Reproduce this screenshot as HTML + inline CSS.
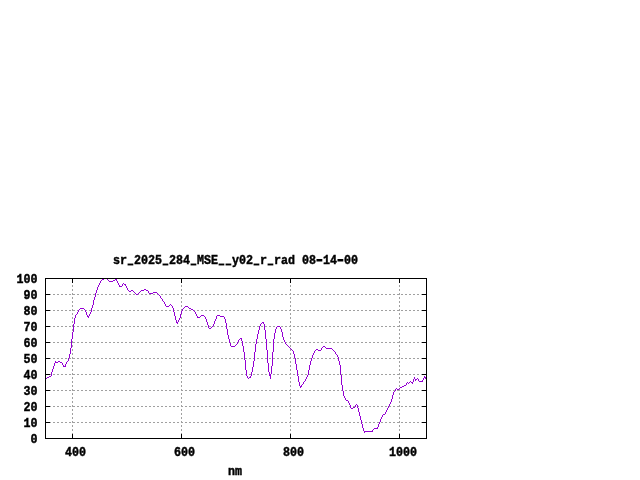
<!DOCTYPE html>
<html><head><meta charset="utf-8"><title>plot</title>
<style>html,body{margin:0;padding:0;background:#fff;overflow:hidden}svg{display:block}text{font-family:"Liberation Mono","DejaVu Sans Mono",monospace;font-weight:bold;fill:#000}</style></head>
<body>
<svg width="640" height="480" viewBox="0 0 640 480">
<rect width="640" height="480" fill="#fff"/>
<g stroke="#a0a0a0" stroke-width="1" stroke-dasharray="2 2" shape-rendering="crispEdges"><line x1="45" y1="422.5" x2="426" y2="422.5"/><line x1="45" y1="406.5" x2="426" y2="406.5"/><line x1="45" y1="390.5" x2="426" y2="390.5"/><line x1="45" y1="374.5" x2="426" y2="374.5"/><line x1="45" y1="358.5" x2="426" y2="358.5"/><line x1="45" y1="342.5" x2="426" y2="342.5"/><line x1="45" y1="326.5" x2="426" y2="326.5"/><line x1="45" y1="310.5" x2="426" y2="310.5"/><line x1="45" y1="294.5" x2="426" y2="294.5"/><line x1="72.5" y1="439" x2="72.5" y2="278"/><line x1="181.5" y1="439" x2="181.5" y2="278"/><line x1="290.5" y1="439" x2="290.5" y2="278"/><line x1="399.5" y1="439" x2="399.5" y2="278"/></g>
<g stroke="#000" stroke-width="1" shape-rendering="crispEdges"><line x1="45" y1="438.5" x2="50" y2="438.5"/><line x1="427" y1="438.5" x2="422" y2="438.5"/><line x1="45" y1="422.5" x2="50" y2="422.5"/><line x1="427" y1="422.5" x2="422" y2="422.5"/><line x1="45" y1="406.5" x2="50" y2="406.5"/><line x1="427" y1="406.5" x2="422" y2="406.5"/><line x1="45" y1="390.5" x2="50" y2="390.5"/><line x1="427" y1="390.5" x2="422" y2="390.5"/><line x1="45" y1="374.5" x2="50" y2="374.5"/><line x1="427" y1="374.5" x2="422" y2="374.5"/><line x1="45" y1="358.5" x2="50" y2="358.5"/><line x1="427" y1="358.5" x2="422" y2="358.5"/><line x1="45" y1="342.5" x2="50" y2="342.5"/><line x1="427" y1="342.5" x2="422" y2="342.5"/><line x1="45" y1="326.5" x2="50" y2="326.5"/><line x1="427" y1="326.5" x2="422" y2="326.5"/><line x1="45" y1="310.5" x2="50" y2="310.5"/><line x1="427" y1="310.5" x2="422" y2="310.5"/><line x1="45" y1="294.5" x2="50" y2="294.5"/><line x1="427" y1="294.5" x2="422" y2="294.5"/><line x1="45" y1="278.5" x2="50" y2="278.5"/><line x1="427" y1="278.5" x2="422" y2="278.5"/><line x1="72.5" y1="439" x2="72.5" y2="434"/><line x1="72.5" y1="278" x2="72.5" y2="283"/><line x1="181.5" y1="439" x2="181.5" y2="434"/><line x1="181.5" y1="278" x2="181.5" y2="283"/><line x1="290.5" y1="439" x2="290.5" y2="434"/><line x1="290.5" y1="278" x2="290.5" y2="283"/><line x1="399.5" y1="439" x2="399.5" y2="434"/><line x1="399.5" y1="278" x2="399.5" y2="283"/></g>
<path fill="#9400d3" shape-rendering="crispEdges" d="M45 378h1v1h-1zM46 378h1v1h-1zM47 377h1v1h-1zM48 377h1v1h-1zM49 376h1v1h-1zM50 376h1v1h-1zM51 372h1v4h-1zM52 369h1v3h-1zM53 366h1v3h-1zM54 363h1v3h-1zM55 361h1v2h-1zM56 362h1v1h-1zM57 362h1v1h-1zM58 361h1v1h-1zM59 361h1v1h-1zM60 362h1v1h-1zM61 362h1v1h-1zM62 363h1v2h-1zM63 365h1v2h-1zM64 366h1v1h-1zM65 364h1v3h-1zM66 362h1v2h-1zM67 361h1v1h-1zM68 358h1v3h-1zM69 354h1v4h-1zM70 348h1v6h-1zM71 339h1v9h-1zM72 332h1v7h-1zM73 324h1v8h-1zM74 318h1v6h-1zM75 315h1v3h-1zM76 314h1v1h-1zM77 312h1v2h-1zM78 310h1v2h-1zM79 309h1v1h-1zM80 308h1v1h-1zM81 308h1v1h-1zM82 308h1v1h-1zM83 308h1v1h-1zM84 309h1v1h-1zM85 310h1v2h-1zM86 312h1v3h-1zM87 315h1v2h-1zM88 316h1v2h-1zM89 314h1v2h-1zM90 312h1v2h-1zM91 308h1v4h-1zM92 305h1v3h-1zM93 300h1v5h-1zM94 297h1v3h-1zM95 293h1v4h-1zM96 290h1v3h-1zM97 287h1v3h-1zM98 285h1v2h-1zM99 283h1v2h-1zM100 281h1v2h-1zM101 280h1v1h-1zM102 279h1v1h-1zM103 279h1v1h-1zM104 278h1v1h-1zM105 278h1v1h-1zM106 278h1v1h-1zM107 279h1v1h-1zM108 280h1v1h-1zM109 281h1v1h-1zM110 281h1v1h-1zM111 281h1v1h-1zM112 281h1v1h-1zM113 280h1v1h-1zM114 280h1v1h-1zM115 279h1v1h-1zM116 279h1v2h-1zM117 281h1v2h-1zM118 283h1v2h-1zM119 285h1v2h-1zM120 286h1v1h-1zM121 286h1v1h-1zM122 284h1v2h-1zM123 283h1v1h-1zM124 284h1v1h-1zM125 284h1v2h-1zM126 286h1v2h-1zM127 288h1v2h-1zM128 290h1v1h-1zM129 291h1v1h-1zM130 291h1v1h-1zM131 290h1v1h-1zM132 290h1v1h-1zM133 291h1v1h-1zM134 292h1v1h-1zM135 293h1v1h-1zM136 294h1v1h-1zM137 294h1v1h-1zM138 293h1v1h-1zM139 292h1v1h-1zM140 291h1v1h-1zM141 290h1v1h-1zM142 290h1v1h-1zM143 290h1v1h-1zM144 289h1v1h-1zM145 289h1v1h-1zM146 290h1v1h-1zM147 290h1v1h-1zM148 291h1v2h-1zM149 293h1v1h-1zM150 293h1v1h-1zM151 293h1v1h-1zM152 293h1v1h-1zM153 292h1v1h-1zM154 292h1v1h-1zM155 292h1v1h-1zM156 292h1v1h-1zM157 293h1v1h-1zM158 294h1v1h-1zM159 295h1v1h-1zM160 296h1v2h-1zM161 298h1v1h-1zM162 299h1v2h-1zM163 301h1v1h-1zM164 302h1v2h-1zM165 304h1v2h-1zM166 306h1v1h-1zM167 306h1v1h-1zM168 306h1v1h-1zM169 305h1v1h-1zM170 304h1v1h-1zM171 305h1v1h-1zM172 306h1v2h-1zM173 308h1v4h-1zM174 312h1v4h-1zM175 316h1v4h-1zM176 320h1v3h-1zM177 322h1v2h-1zM178 320h1v2h-1zM179 318h1v2h-1zM180 314h1v4h-1zM181 311h1v3h-1zM182 309h1v2h-1zM183 308h1v1h-1zM184 307h1v1h-1zM185 306h1v1h-1zM186 306h1v1h-1zM187 306h1v1h-1zM188 307h1v1h-1zM189 308h1v1h-1zM190 308h1v1h-1zM191 309h1v1h-1zM192 309h1v1h-1zM193 310h1v1h-1zM194 311h1v1h-1zM195 312h1v2h-1zM196 314h1v2h-1zM197 316h1v2h-1zM198 317h1v1h-1zM199 317h1v1h-1zM200 316h1v1h-1zM201 315h1v1h-1zM202 315h1v1h-1zM203 315h1v1h-1zM204 316h1v1h-1zM205 317h1v2h-1zM206 319h1v3h-1zM207 322h1v3h-1zM208 325h1v3h-1zM209 328h1v1h-1zM210 328h1v1h-1zM211 327h1v1h-1zM212 326h1v1h-1zM213 324h1v2h-1zM214 321h1v3h-1zM215 319h1v2h-1zM216 316h1v3h-1zM217 315h1v1h-1zM218 315h1v1h-1zM219 315h1v1h-1zM220 316h1v1h-1zM221 316h1v1h-1zM222 316h1v1h-1zM223 316h1v1h-1zM224 317h1v2h-1zM225 319h1v4h-1zM226 323h1v6h-1zM227 329h1v6h-1zM228 335h1v4h-1zM229 339h1v4h-1zM230 343h1v3h-1zM231 346h1v1h-1zM232 346h1v1h-1zM233 346h1v1h-1zM234 346h1v1h-1zM235 345h1v1h-1zM236 344h1v1h-1zM237 342h1v2h-1zM238 340h1v2h-1zM239 339h1v1h-1zM240 338h1v1h-1zM241 338h1v3h-1zM242 341h1v5h-1zM243 346h1v6h-1zM244 352h1v8h-1zM245 360h1v10h-1zM246 370h1v6h-1zM247 376h1v2h-1zM248 378h1v1h-1zM249 377h1v1h-1zM250 376h1v2h-1zM251 372h1v4h-1zM252 367h1v5h-1zM253 361h1v6h-1zM254 352h1v9h-1zM255 344h1v8h-1zM256 339h1v5h-1zM257 334h1v5h-1zM258 330h1v4h-1zM259 326h1v4h-1zM260 324h1v2h-1zM261 323h1v1h-1zM262 322h1v1h-1zM263 322h1v2h-1zM264 324h1v6h-1zM265 330h1v9h-1zM266 339h1v11h-1zM267 350h1v13h-1zM268 363h1v9h-1zM269 372h1v4h-1zM270 374h1v5h-1zM271 366h1v8h-1zM272 352h1v14h-1zM273 339h1v13h-1zM274 333h1v6h-1zM275 329h1v4h-1zM276 327h1v2h-1zM277 326h1v1h-1zM278 326h1v1h-1zM279 326h1v1h-1zM280 327h1v2h-1zM281 329h1v3h-1zM282 332h1v5h-1zM283 337h1v3h-1zM284 340h1v2h-1zM285 342h1v2h-1zM286 344h1v1h-1zM287 345h1v1h-1zM288 346h1v1h-1zM289 347h1v1h-1zM290 348h1v1h-1zM291 349h1v1h-1zM292 350h1v1h-1zM293 351h1v3h-1zM294 354h1v4h-1zM295 358h1v6h-1zM296 364h1v6h-1zM297 370h1v6h-1zM298 376h1v6h-1zM299 382h1v4h-1zM300 386h1v2h-1zM301 385h1v2h-1zM302 384h1v1h-1zM303 382h1v2h-1zM304 381h1v1h-1zM305 379h1v2h-1zM306 377h1v2h-1zM307 375h1v2h-1zM308 370h1v5h-1zM309 365h1v5h-1zM310 361h1v4h-1zM311 358h1v3h-1zM312 355h1v3h-1zM313 353h1v2h-1zM314 351h1v2h-1zM315 350h1v1h-1zM316 349h1v1h-1zM317 349h1v1h-1zM318 350h1v1h-1zM319 350h1v1h-1zM320 350h1v1h-1zM321 348h1v2h-1zM322 347h1v1h-1zM323 346h1v1h-1zM324 346h1v1h-1zM325 347h1v1h-1zM326 348h1v1h-1zM327 348h1v1h-1zM328 348h1v1h-1zM329 348h1v1h-1zM330 348h1v1h-1zM331 348h1v1h-1zM332 349h1v1h-1zM333 350h1v1h-1zM334 351h1v1h-1zM335 352h1v2h-1zM336 354h1v1h-1zM337 355h1v2h-1zM338 357h1v4h-1zM339 361h1v4h-1zM340 365h1v10h-1zM341 375h1v10h-1zM342 385h1v6h-1zM343 391h1v5h-1zM344 396h1v2h-1zM345 398h1v2h-1zM346 400h1v1h-1zM347 400h1v1h-1zM348 401h1v2h-1zM349 403h1v2h-1zM350 405h1v3h-1zM351 408h1v1h-1zM352 408h1v1h-1zM353 407h1v1h-1zM354 407h1v1h-1zM355 405h1v2h-1zM356 404h1v1h-1zM357 405h1v3h-1zM358 408h1v4h-1zM359 412h1v4h-1zM360 416h1v4h-1zM361 420h1v4h-1zM362 424h1v4h-1zM363 428h1v3h-1zM364 431h1v2h-1zM365 431h1v1h-1zM366 431h1v1h-1zM367 431h1v1h-1zM368 431h1v1h-1zM369 431h1v1h-1zM370 431h1v1h-1zM371 431h1v1h-1zM372 430h1v2h-1zM373 429h1v1h-1zM374 428h1v1h-1zM375 428h1v1h-1zM376 428h1v1h-1zM377 427h1v2h-1zM378 424h1v3h-1zM379 422h1v2h-1zM380 419h1v3h-1zM381 417h1v2h-1zM382 415h1v2h-1zM383 414h1v1h-1zM384 414h1v1h-1zM385 412h1v2h-1zM386 410h1v2h-1zM387 408h1v2h-1zM388 406h1v2h-1zM389 404h1v2h-1zM390 402h1v2h-1zM391 399h1v3h-1zM392 395h1v4h-1zM393 392h1v3h-1zM394 391h1v1h-1zM395 389h1v2h-1zM396 388h1v1h-1zM397 389h1v1h-1zM398 389h1v1h-1zM399 388h1v1h-1zM400 387h1v1h-1zM401 387h1v1h-1zM402 386h1v1h-1zM403 386h1v1h-1zM404 385h1v1h-1zM405 385h1v1h-1zM406 383h1v2h-1zM407 382h1v1h-1zM408 383h1v1h-1zM409 382h1v1h-1zM410 381h1v1h-1zM411 382h1v1h-1zM412 382h1v2h-1zM413 379h1v3h-1zM414 377h1v2h-1zM415 379h1v2h-1zM416 379h1v1h-1zM417 378h1v1h-1zM418 379h1v2h-1zM419 381h1v1h-1zM420 381h1v1h-1zM421 381h1v1h-1zM422 380h1v2h-1zM423 378h1v2h-1zM424 376h1v2h-1zM425 377h1v2h-1zM426 379h1v1h-1z"/>
<rect x="45.5" y="278.5" width="381" height="160" fill="none" stroke="#000" stroke-width="1" shape-rendering="crispEdges"/>
<text transform="translate(113 264) scale(0.8974 1)" font-size="13" text-anchor="start" stroke="#000" stroke-width="0.45" xml:space="preserve">sr<tspan dx="1.17" dy="-1.10" stroke-width="1.3" textLength="5.46" lengthAdjust="spacingAndGlyphs">_</tspan><tspan dx="1.17" dy="1.10">2025</tspan><tspan dx="1.17" dy="-1.10" stroke-width="1.3" textLength="5.46" lengthAdjust="spacingAndGlyphs">_</tspan><tspan dx="1.17" dy="1.10">284</tspan><tspan dx="1.17" dy="-1.10" stroke-width="1.3" textLength="5.46" lengthAdjust="spacingAndGlyphs">_</tspan><tspan dx="1.17" dy="1.10">MSE</tspan><tspan dx="1.17" dy="-1.10" stroke-width="1.3" textLength="5.46" lengthAdjust="spacingAndGlyphs">_</tspan><tspan dx="2.34" dy="0.00" stroke-width="1.3" textLength="5.46" lengthAdjust="spacingAndGlyphs">_</tspan><tspan dx="1.17" dy="1.10">y02</tspan><tspan dx="1.17" dy="-1.10" stroke-width="1.3" textLength="5.46" lengthAdjust="spacingAndGlyphs">_</tspan><tspan dx="1.17" dy="1.10">r</tspan><tspan dx="1.17" dy="-1.10" stroke-width="1.3" textLength="5.46" lengthAdjust="spacingAndGlyphs">_</tspan><tspan dx="1.17" dy="1.10">rad 08</tspan><tspan dx="-1.56" dy="-0.25" stroke-width="1.0" textLength="10.92" lengthAdjust="spacingAndGlyphs">-</tspan><tspan dx="-1.56" dy="0.25">14</tspan><tspan dx="-1.56" dy="-0.25" stroke-width="1.0" textLength="10.92" lengthAdjust="spacingAndGlyphs">-</tspan><tspan dx="-1.56" dy="0.25">00</tspan></text>
<text transform="translate(37.5 443.0) scale(0.8974 1)" font-size="13" text-anchor="end" stroke="#000" stroke-width="0.45" xml:space="preserve">0</text>
<text transform="translate(37.5 427.0) scale(0.8974 1)" font-size="13" text-anchor="end" stroke="#000" stroke-width="0.45" xml:space="preserve">10</text>
<text transform="translate(37.5 411.0) scale(0.8974 1)" font-size="13" text-anchor="end" stroke="#000" stroke-width="0.45" xml:space="preserve">20</text>
<text transform="translate(37.5 395.0) scale(0.8974 1)" font-size="13" text-anchor="end" stroke="#000" stroke-width="0.45" xml:space="preserve">30</text>
<text transform="translate(37.5 379.0) scale(0.8974 1)" font-size="13" text-anchor="end" stroke="#000" stroke-width="0.45" xml:space="preserve">40</text>
<text transform="translate(37.5 363.0) scale(0.8974 1)" font-size="13" text-anchor="end" stroke="#000" stroke-width="0.45" xml:space="preserve">50</text>
<text transform="translate(37.5 347.0) scale(0.8974 1)" font-size="13" text-anchor="end" stroke="#000" stroke-width="0.45" xml:space="preserve">60</text>
<text transform="translate(37.5 331.0) scale(0.8974 1)" font-size="13" text-anchor="end" stroke="#000" stroke-width="0.45" xml:space="preserve">70</text>
<text transform="translate(37.5 315.0) scale(0.8974 1)" font-size="13" text-anchor="end" stroke="#000" stroke-width="0.45" xml:space="preserve">80</text>
<text transform="translate(37.5 299.0) scale(0.8974 1)" font-size="13" text-anchor="end" stroke="#000" stroke-width="0.45" xml:space="preserve">90</text>
<text transform="translate(37.5 283.0) scale(0.8974 1)" font-size="13" text-anchor="end" stroke="#000" stroke-width="0.45" xml:space="preserve">100</text>
<text transform="translate(65 456) scale(0.8974 1)" font-size="13" text-anchor="start" stroke="#000" stroke-width="0.45" xml:space="preserve">400</text>
<text transform="translate(174 456) scale(0.8974 1)" font-size="13" text-anchor="start" stroke="#000" stroke-width="0.45" xml:space="preserve">600</text>
<text transform="translate(283 456) scale(0.8974 1)" font-size="13" text-anchor="start" stroke="#000" stroke-width="0.45" xml:space="preserve">800</text>
<text transform="translate(389 456) scale(0.8974 1)" font-size="13" text-anchor="start" stroke="#000" stroke-width="0.45" xml:space="preserve">1000</text>
<text transform="translate(228 475) scale(0.8974 1)" font-size="13" text-anchor="start" stroke="#000" stroke-width="0.45" xml:space="preserve">nm</text>
</svg>
</body></html>
